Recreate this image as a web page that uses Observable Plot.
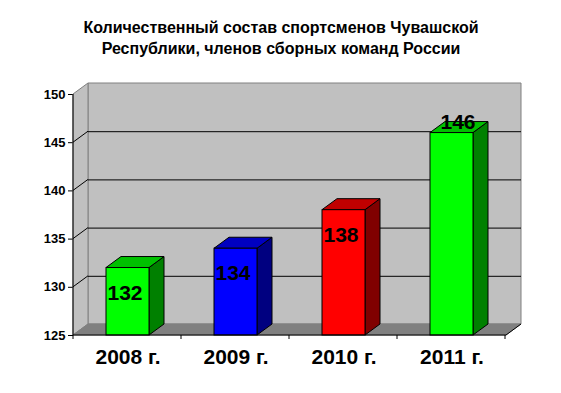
<!DOCTYPE html>
<html><head><meta charset="utf-8">
<script src="https://cdn.jsdelivr.net/npm/d3@7"></script>
<script src="https://cdn.jsdelivr.net/npm/@observablehq/plot@0.6"></script>
<style>body{margin:0;background:#fff;} svg{display:block;}</style>
</head><body><div id="chart"></div>
<script>
const years = ["2008 г.", "2009 г.", "2010 г.", "2011 г."];
const values = [132, 134, 138, 146];
const frontColors = ["#00ff00", "#0000ff", "#ff0000", "#00ff00"];
const topColors = ["#00c000", "#0000c0", "#c00000", "#00c000"];
const sideColors = ["#008000", "#000080", "#800000", "#008000"];
const yTicks = [125, 130, 135, 140, 145, 150];
const gridTicks = [130, 135, 140, 145];
const titleLines = ["Количественный состав спортсменов Чувашской", "Республики, членов сборных команд России"];

const data = years.map((year, i) => ({year, value: values[i], front: frontColors[i], top: topColors[i], side: sideColors[i], i}));

const DX = 15, DY = -11;
const FONT = "Arial, 'Liberation Sans', sans-serif";
const Y0 = yTicks[0], Y1 = yTicks[yTicks.length - 1];

function poly(g, pts, fill, stroke) {
  g.append("polygon")
    .attr("points", pts.map(p => p.join(",")).join(" "))
    .attr("fill", fill)
    .attr("stroke", stroke)
    .attr("stroke-width", 1)
    .attr("stroke-linejoin", "miter");
}
function line(g, x1, y1, x2, y2, stroke) {
  g.append("line").attr("x1", x1).attr("y1", y1).attr("x2", x2).attr("y2", y2)
    .attr("stroke", stroke).attr("stroke-width", 1);
}
function bw(x) { return typeof x.bandwidth === "function" ? x.bandwidth() : x.bandwidth; }

// back walls and floor
const walls = (index, {y}, values, dims) => {
  const xl = dims.marginLeft, xr = dims.width - dims.marginRight;
  const yb = y(Y0), yt = y(Y1);
  const g = d3.create("svg:g");
  poly(g, [[xl + DX, yt + DY], [xr + DX, yt + DY], [xr + DX, yb + DY], [xl + DX, yb + DY]], "#c0c0c0", "#808080");
  poly(g, [[xl, yt], [xl + DX, yt + DY], [xl + DX, yb + DY], [xl, yb]], "#c0c0c0", "#808080");
  poly(g, [[xl, yb], [xl + DX, yb + DY], [xr + DX, yb + DY], [xr, yb]], "#808080", "#808080");
  return g.node();
};

// depth diagonals at grid ticks
const diagonals = (index, {y}, values, dims) => {
  const xl = dims.marginLeft;
  const g = d3.create("svg:g");
  for (const t of gridTicks) line(g, xl, y(t), xl + DX, y(t) + DY, "#000");
  return g.node();
};

// 3D faces of bars
const faces = (index, {x, y}) => {
  const g = d3.create("svg:g");
  const w = bw(x);
  for (const d of data) {
    const x0 = x(d.year), x1 = x0 + w;
    const yt = y(d.value), yb = y(Y0);
    poly(g, [[x1, yt], [x1 + DX, yt + DY], [x1 + DX, yb + DY], [x1, yb]], d.side, "#000");
    poly(g, [[x0, yt], [x0 + DX, yt + DY], [x1 + DX, yt + DY], [x1, yt]], d.top, "#000");
  }
  return g.node();
};

// axis lines
const axes = (index, {x, y}, values, dims) => {
  const xl = dims.marginLeft, xr = dims.width - dims.marginRight;
  const yb = y(Y0), yt = y(Y1);
  const g = d3.create("svg:g");
  line(g, xl, yt, xl, yb + 4, "#000");
  line(g, xl, yb, xr, yb, "#000");
  const step = typeof x.step === "function" ? x.step() : (xr - xl) / years.length;
  for (let k = 1; k <= years.length; k++) line(g, xl + k * step, yb, xl + k * step, yb + 4, "#000");
  line(g, xr, yb, xr + DX, yb + DY, "#000");
  return g.node();
};

const chart = Plot.plot({
  width: 561,
  height: 393,
  marginLeft: 73,
  marginRight: 55,
  marginTop: 94,
  marginBottom: 58,
  style: {fontFamily: FONT, fontSize: "13px", fontWeight: "bold", color: "#000", background: "#fff"},
  x: {domain: years, paddingInner: 0.6, paddingOuter: 0.3, axis: null},
  y: {domain: [Y0, Y1], ticks: yTicks, tickSize: 5, tickPadding: 3, label: null},
  color: {type: "identity"},
  marks: [
    walls,
    Plot.ruleY(gridTicks, {y: d => d, stroke: "#000", dx: DX, dy: DY}),
    diagonals,
    faces,
    Plot.barY(data, {x: "year", y1: () => Y0, y2: "value", fill: "front", stroke: "#000", strokeWidth: 1}),
    axes,
    Plot.text(data.filter(d => d.i < 3), {x: "year", y: "value", text: d => String(d.value), dx: -3, dy: 25, fontSize: 21, fontWeight: "bold", fill: "#000"}),
    Plot.text(data.filter(d => d.i === 3), {x: "year", y: "value", text: d => String(d.value), dx: 6, dy: -11, fontSize: 21, fontWeight: "bold", fill: "#000"}),
    Plot.text(data, {x: "year", frameAnchor: "bottom", lineAnchor: "middle", text: "year", dy: 22, fontSize: 21, fontWeight: "bold", fill: "#000"}),
    Plot.text([titleLines.join("\n")], {frameAnchor: "top", lineAnchor: "middle", text: d => d, dx: -9, dy: -58, lineHeight: 1.35, fontSize: 16, fontWeight: "bold", fill: "#000"})
  ]
});
document.getElementById("chart").appendChild(chart);
</script>
</body></html>
